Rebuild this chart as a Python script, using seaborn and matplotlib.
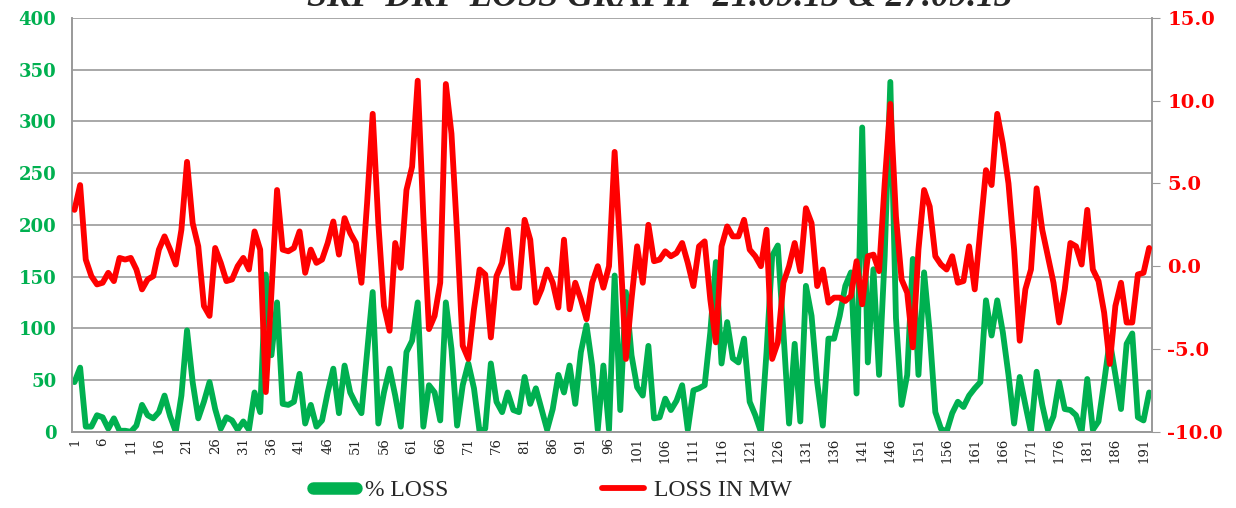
import numpy as np
import pandas as pd
import matplotlib
matplotlib.use("Agg")
import matplotlib.pyplot as plt
import seaborn as sns
from matplotlib.lines import Line2D

# ---------------------------------------------------------------
# podaci ocitani sa grafika (192 tacke)
# ---------------------------------------------------------------
pct_loss = [
    48, 62, 5, 5, 16, 14, 3, 13, 1, 1, 0, 6, 26, 16, 13, 19, 35, 15, 0, 35,
    98, 48, 13, 29, 48, 22, 3, 14, 11, 2, 10, 2, 38, 19, 152, 74, 125, 27, 26, 29,
    56, 8, 26, 5, 11, 38, 61, 18, 64, 38, 27, 18, 77, 135, 8, 38, 61, 35, 5, 77,
    88, 125, 5, 45, 38, 11, 125, 80, 6, 45, 66, 42, 0, 3, 66, 29, 19, 38, 21, 19,
    53, 27, 42, 22, 2, 22, 55, 38, 64, 27, 77, 103, 64, 2, 64, 2, 151, 21, 135, 74,
    43, 35, 83, 13, 14, 32, 21, 30, 45, 2, 40, 42, 45, 96, 164, 66, 106, 71, 67, 90,
    29, 16, 0, 77, 170, 180, 96, 8, 85, 10, 141, 112, 48, 6, 90, 90, 112, 141, 154, 37,
    294, 67, 157, 55, 170, 338, 110, 26, 55, 167, 55, 154, 96, 19, 3, 0, 18, 29, 24, 35,
    42, 48, 127, 93, 127, 96, 55, 8, 53, 26, 0, 58, 26, 2, 15, 48, 22, 21, 16, 0,
    51, 2, 10, 48, 88, 55, 22, 85, 95, 14, 11, 38,
]

loss_mw = [
    3.4, 4.9, 0.4, -0.6, -1.1, -1.0, -0.4, -0.9, 0.5, 0.4, 0.5, -0.2, -1.4, -0.8, -0.6, 1.0, 1.8, 1.0, 0.1, 2.2,
    6.3, 2.6, 1.2, -2.4, -3.0, 1.1, 0.2, -0.9, -0.8, 0.0, 0.5, -0.2, 2.1, 1.0, -7.6, -1.6, 4.6, 1.0, 0.9, 1.1,
    2.1, -0.4, 1.0, 0.2, 0.4, 1.4, 2.7, 0.7, 2.9, 2.0, 1.4, -1.0, 3.8, 9.2, 2.6, -2.4, -3.9, 1.4, -0.1, 4.6,
    6.0, 11.2, 3.0, -3.8, -3.0, -1.0, 11.0, 8.0, 2.0, -4.8, -5.6, -2.6, -0.2, -0.5, -4.3, -0.6, 0.2, 2.2, -1.3, -1.3,
    2.8, 1.6, -2.2, -1.4, -0.2, -1.0, -2.5, 1.6, -2.6, -1.0, -2.0, -3.2, -1.0, 0.0, -1.3, 0.0, 6.9, 1.0, -5.6, -2.0,
    1.2, -1.0, 2.5, 0.3, 0.4, 0.9, 0.6, 0.8, 1.4, 0.2, -1.2, 1.2, 1.5, -2.0, -4.6, 1.2, 2.4, 1.8, 1.8, 2.8,
    1.0, 0.6, 0.0, 2.2, -5.6, -4.6, -1.0, 0.0, 1.4, -0.3, 3.5, 2.6, -1.2, -0.2, -2.2, -1.9, -1.9, -2.1, -1.8, 0.3,
    -2.3, 0.6, 0.7, -0.3, 5.0, 9.8, 3.0, -0.8, -1.6, -4.9, 1.0, 4.6, 3.6, 0.6, 0.1, -0.2, 0.6, -1.0, -0.9, 1.2,
    -1.4, 2.2, 5.8, 4.9, 9.2, 7.4, 5.0, 1.0, -4.5, -1.4, -0.2, 4.7, 2.2, 0.6, -1.0, -3.4, -1.4, 1.4, 1.2, 0.1,
    3.4, -0.2, -0.9, -2.8, -5.9, -2.4, -1.0, -3.4, -3.4, -0.5, -0.4, 1.1,
]

rb = list(range(1, len(pct_loss) + 1))
x_tick_labels = [str(i) for i in range(1, 192, 5)]

title = "SKP-DRP-LOSS GRAPH- 21.09.13 & 27.09.13"

df = pd.DataFrame({"rb": rb, "pct": pct_loss, "mw": loss_mw})

GREEN = "#00B050"
RED = "#FF0000"

# ---------------------------------------------------------------
# crtanje
# ---------------------------------------------------------------
sns.set_style("white")
fig = plt.figure(figsize=(12.36, 5.08), dpi=100)
ax = fig.add_axes([0.058, 0.150, 0.874, 0.815])
ax2 = ax.twinx()

sns.lineplot(data=df, x="rb", y="pct", ax=ax, color=GREEN, linewidth=4.2, zorder=2)
sns.lineplot(data=df, x="rb", y="mw", ax=ax2, color=RED, linewidth=4.2, zorder=3)

ax.set_xlim(0.5, 192.5)
ax.set_ylim(0, 400)
ax2.set_ylim(-10, 15)

ax.set_yticks(np.arange(0, 401, 50))
ax.set_yticklabels([str(v) for v in range(0, 401, 50)], color=GREEN,
                   fontsize=13, fontweight="bold", family="DejaVu Serif")
ax2.set_yticks(np.arange(-10, 16, 5))
ax2.set_yticklabels([f"{v:.1f}" for v in range(-10, 16, 5)], color=RED,
                    fontsize=14, fontweight="bold", family="DejaVu Serif")

ax.set_xticks(range(1, 192, 5))
ax.set_xticklabels(x_tick_labels, rotation=90, fontsize=9.5,
                   family="DejaVu Serif", color="#222222")

ax.yaxis.grid(True, color="#999999", linewidth=1.2)
ax.set_axisbelow(True)
ax.tick_params(axis="y", length=0, pad=11)
ax.tick_params(axis="x", length=0, pad=4)
ax2.tick_params(axis="y", length=6, color="#999999", pad=5)

ax.set_xlabel("")
ax.set_ylabel("")
ax2.set_ylabel("")

for a in (ax, ax2):
    for s in a.spines.values():
        s.set_color("#999999")
        s.set_linewidth(1.2)
    a.spines["top"].set_visible(False)

# naslov je u originalu odsecen na vrhu slike
fig.text(0.534, 0.988, title, ha="center", va="baseline", fontsize=26,
         fontweight="bold", fontstyle="italic", family="Liberation Serif")

handles = [Line2D([0], [0], color=GREEN, linewidth=9, solid_capstyle="round"),
           Line2D([0], [0], color=RED, linewidth=4.2)]
fig.legend(handles, ["% LOSS", "LOSS IN MW"], loc="center",
           bbox_to_anchor=(0.447, 0.035), ncol=2, frameon=False,
           prop={"family": "Liberation Serif", "size": 17},
           handlelength=1.8, handletextpad=0.4, columnspacing=6.5)

fig.savefig("out.png", dpi=100)
